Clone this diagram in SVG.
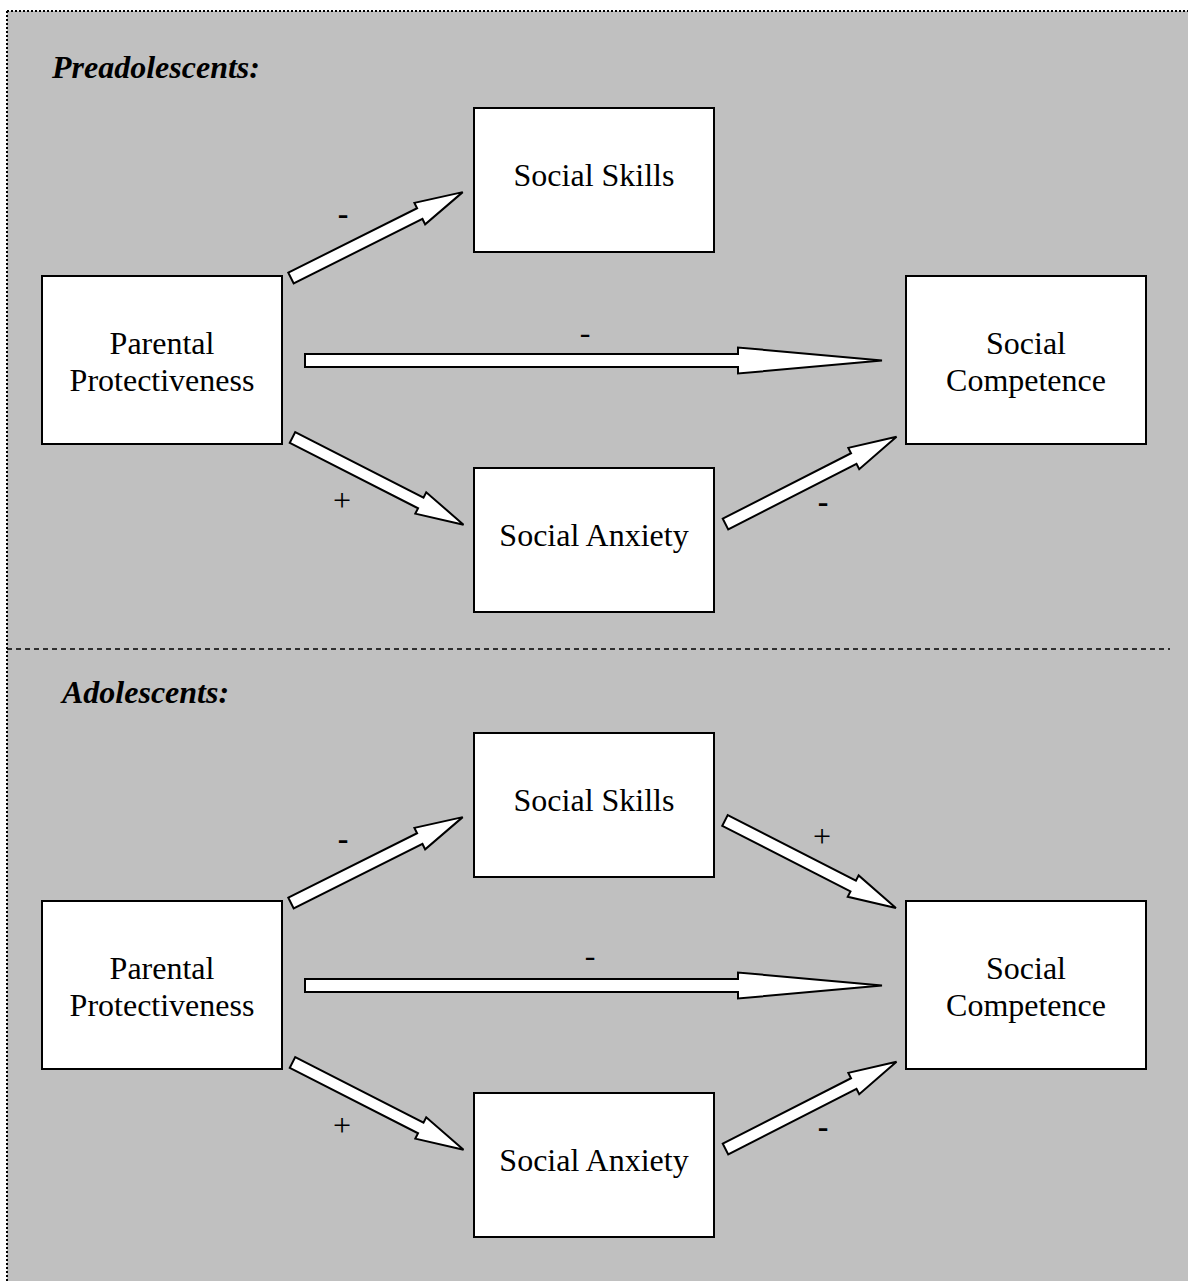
<svg xmlns="http://www.w3.org/2000/svg" width="1188" height="1281" viewBox="0 0 1188 1281">
<style>
.node rect{fill:#fff;stroke:#000;stroke-width:2}
.node text{font-family:"Liberation Serif","Times New Roman",serif;font-size:32px;text-anchor:middle;fill:#000}
.title{font-family:"Liberation Serif","Times New Roman",serif;font-size:32px;font-weight:bold;font-style:italic;fill:#000}
.arrow{fill:#fff;stroke:#000;stroke-width:2;stroke-linejoin:miter}
.lbl{font-family:"Liberation Serif","Times New Roman",serif;font-size:32px;text-anchor:middle;fill:#000}
.b{font-weight:bold}
</style>
<defs>
<path id="diag" d="M0,-6 L144,-6 L144,-12 L192,0 L144,12 L144,6 L0,6 Z"/>
<path id="horiz" d="M0,-6.5 L433,-6.5 L433,-13 L577,0 L433,13 L433,6.5 L0,6.5 Z"/>
</defs>
<rect x="7" y="11" width="1181" height="1270" fill="#c0c0c0"/>
<line x1="7" y1="11" x2="1188" y2="11" stroke="#000" stroke-width="2" stroke-dasharray="2,2"/>
<line x1="7" y1="11" x2="7" y2="1281" stroke="#000" stroke-width="2" stroke-dasharray="2,2"/>
<line x1="7" y1="649" x2="1170" y2="649" stroke="#000" stroke-width="1.5" stroke-dasharray="5,4"/>
<text class="title" x="52" y="78">Preadolescents:</text>
<text class="title" x="62" y="703">Adolescents:</text>
<g id="p1-skills" class="node"><rect x="474" y="108" width="240" height="144"/><text x="594" y="186">Social Skills</text></g>
<g id="p1-parental" class="node"><rect x="42" y="276" width="240" height="168"/><text x="162" y="354">Parental</text><text x="162" y="391">Protectiveness</text></g>
<g id="p1-competence" class="node"><rect x="906" y="276" width="240" height="168"/><text x="1026" y="354">Social</text><text x="1026" y="391">Competence</text></g>
<g id="p1-anxiety" class="node"><rect x="474" y="468" width="240" height="144"/><text x="594" y="546">Social Anxiety</text></g>
<g id="p2-skills" class="node"><rect x="474" y="733" width="240" height="144"/><text x="594" y="811">Social Skills</text></g>
<g id="p2-parental" class="node"><rect x="42" y="901" width="240" height="168"/><text x="162" y="979">Parental</text><text x="162" y="1016">Protectiveness</text></g>
<g id="p2-competence" class="node"><rect x="906" y="901" width="240" height="168"/><text x="1026" y="979">Social</text><text x="1026" y="1016">Competence</text></g>
<g id="p2-anxiety" class="node"><rect x="474" y="1093" width="240" height="144"/><text x="594" y="1171">Social Anxiety</text></g>
<g id="connectors">
<use href="#diag" class="arrow" transform="translate(291,278) rotate(-26.57)"/>
<use href="#horiz" class="arrow" transform="translate(305,360.5)"/>
<use href="#diag" class="arrow" transform="translate(292.5,437.5) rotate(27.03)"/>
<use href="#diag" class="arrow" transform="translate(725.5,524) rotate(-27.03)"/>
<use href="#diag" class="arrow" transform="translate(291,903) rotate(-26.57)"/>
<use href="#diag" class="arrow" transform="translate(725,820.5) rotate(27.1)"/>
<use href="#horiz" class="arrow" transform="translate(305,985.5)"/>
<use href="#diag" class="arrow" transform="translate(292.5,1062.5) rotate(27.03)"/>
<use href="#diag" class="arrow" transform="translate(725.5,1149) rotate(-27.03)"/>
<text class="lbl b" x="343" y="224">-</text>
<text class="lbl" x="585" y="343">-</text>
<text class="lbl" x="342" y="511">+</text>
<text class="lbl b" x="823" y="512">-</text>
<text class="lbl b" x="343" y="849">-</text>
<text class="lbl" x="822" y="847">+</text>
<text class="lbl" x="590" y="966">-</text>
<text class="lbl" x="342" y="1136">+</text>
<text class="lbl b" x="823" y="1137">-</text>
</g>
</svg>
